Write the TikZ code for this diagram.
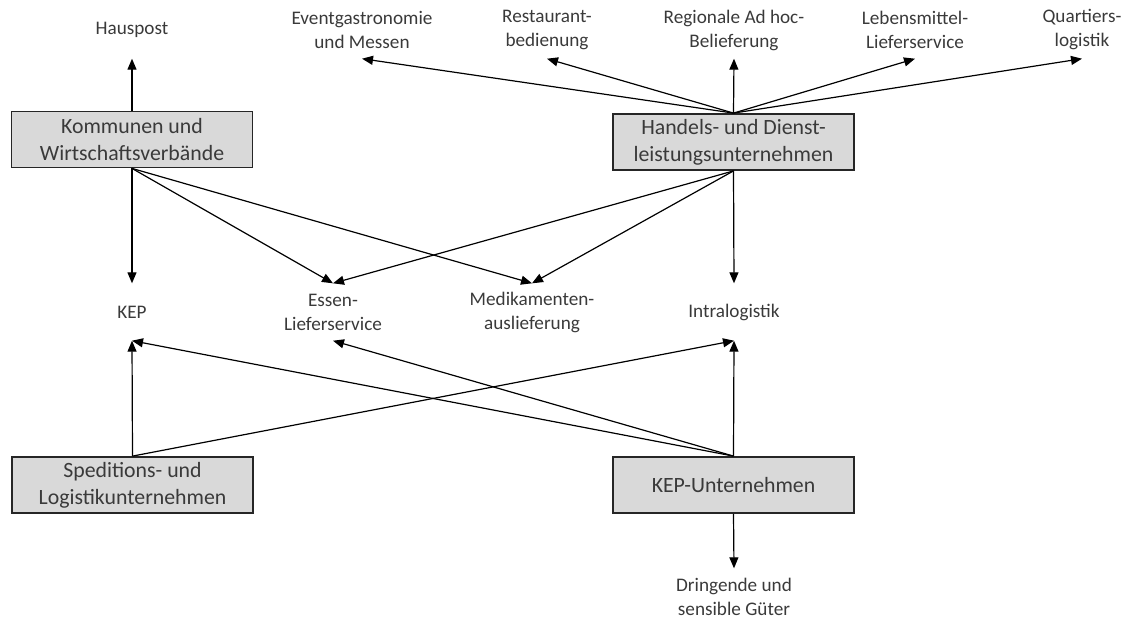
\documentclass[tikz,border=0pt]{standalone}
\usepackage{fontspec}
\setmainfont{Carlito}
\usetikzlibrary{arrows.meta}
\definecolor{boxgray}{HTML}{D9D9D9}
\definecolor{textgray}{HTML}{3A3A3A}

\begin{document}
\begin{tikzpicture}[x=1pt,y=-1pt,
        actor/.style={draw=black!85,line width=1.8pt,fill=boxgray,text=textgray,
            minimum width=241pt,minimum height=56pt,inner sep=0pt,align=center,
            font=\fontsize{21.8}{27}\selectfont},
        use case/.style={text=textgray,minimum height=57pt,inner sep=0pt,align=center,
            font=\fontsize{19.2}{24}\selectfont},
        link/.style={-{Triangle[length=11pt,width=9pt]},line width=1.2pt}]
    \useasboundingbox (0,0) rectangle (1133,619);
    \node[actor] (kommunen) at (132,139.5) {Kommunen und\\Wirtschaftsverbände};
    \node[actor] (handel) at (733.5,142) {Handels- und Dienst-\\leistungsunternehmen};
    \node[actor] (spedition) at (132.5,485) {Speditions- und\\Logistikunternehmen};
    \node[actor] (kepu) at (733.5,485) {KEP-Unternehmen};
    \node[use case] (hauspost) at (132,30) {Hauspost};
    \node[use case] (event) at (362,30) {Eventgastronomie\\und Messen};
    \node[use case] (restaurant) at (547,30) {Restaurant-\\bedienung};
    \node[use case] (adhoc) at (734,30) {Regionale Ad hoc-\\Belieferung};
    \node[use case] (lebensmittel) at (915,30) {Lebensmittel-\\Lieferservice};
    \node[use case] (quartier) at (1082,30) {Quartiers-\\logistik};
    \node[use case] (kep) at (132,312) {KEP};
    \node[use case] (essen) at (333,312) {Essen-\\Lieferservice};
    \node[use case] (medikamente) at (532,312) {Medikamenten-\\auslieferung};
    \node[use case] (intra) at (734,312) {Intralogistik};
    \node[use case] (guter) at (734,597) {Dringende und\\sensible Güter};
    \draw[link] (kommunen.north) -- (hauspost.south);
    \draw[link] (kommunen.south) -- (kep.north);
    \draw[link] (kommunen.south) -- (essen.north);
    \draw[link] (kommunen.south) -- (medikamente.north);
    \foreach \n in {event,restaurant,adhoc,lebensmittel,quartier}
        \draw[link] (handel.north) -- (\n.south);
    \foreach \n in {essen,medikamente,intra}
        \draw[link] (handel.south) -- (\n.north);
    \draw[link] (spedition.north) -- (kep.south);
    \draw[link] (spedition.north) -- (intra.south);
    \foreach \n in {kep,essen,intra}
        \draw[link] (kepu.north) -- (\n.south);
    \draw[link] (kepu.south) -- (guter.north);
\end{tikzpicture}
\end{document}
